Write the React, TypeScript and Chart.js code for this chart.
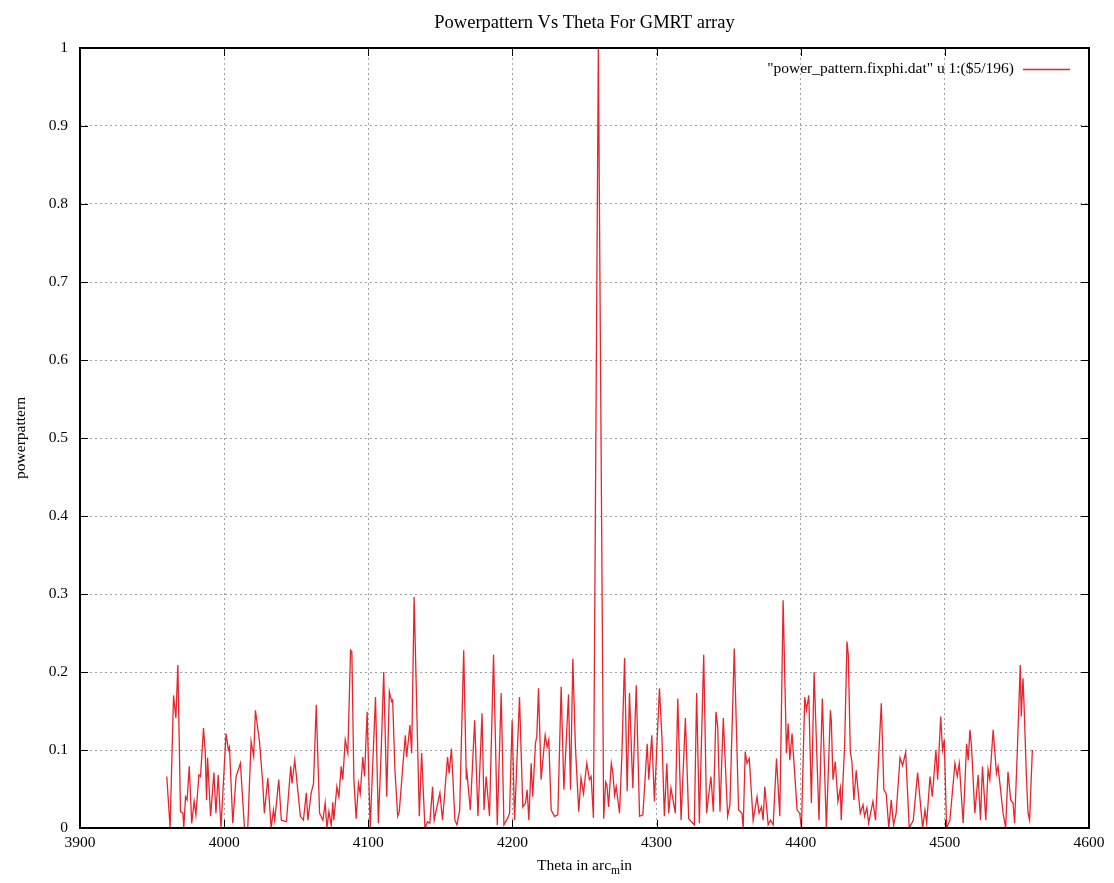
import React, { useEffect, useRef } from "react";
import { Chart, registerables } from "chart.js";

Chart.register(...registerables);

// Theta (arc-minutes) and normalised power of the GMRT array pattern at fixed phi
const thetaArcmin = [
  3960.2, 3962.5, 3964.9, 3966.5, 3967.9, 3969.7, 3971.4, 3972.0, 3973.2, 3974.3,
  3975.8, 3977.5, 3979.2, 3980.4, 3982.5, 3983.6, 3985.7, 3986.9, 3987.8, 3988.5,
  3990.6, 3992.9, 3994.3, 3995.9, 3997.8, 4001.3, 4002.9, 4003.7, 4006.0, 4008.3,
  4011.3, 4014.1, 4016.4, 4018.7, 4020.5, 4021.7, 4024.5, 4026.8, 4027.9, 4030.3,
  4032.6, 4034.2, 4035.1, 4037.9, 4039.7, 4043.2, 4046.2, 4047.1, 4049.0, 4052.9,
  4055.0, 4057.0, 4058.1, 4060.4, 4062.0, 4063.9, 4066.2, 4068.5, 4070.1, 4071.3,
  4072.7, 4074.3, 4075.4, 4076.1, 4078.2, 4079.6, 4081.2, 4082.3, 4084.0, 4085.8,
  4087.7, 4088.6, 4090.0, 4091.6, 4093.2, 4094.4, 4096.2, 4097.4, 4099.2, 4101.3,
  4105.0, 4107.0, 4108.9, 4110.7, 4112.8, 4114.6, 4116.2, 4116.9, 4118.5, 4120.4,
  4121.5, 4124.3, 4125.7, 4126.6, 4128.9, 4130.1, 4131.8, 4135.4, 4137.0, 4139.3,
  4141.1, 4142.7, 4144.6, 4145.7, 4149.7, 4151.5, 4155.0, 4156.1, 4157.7, 4160.1,
  4161.5, 4163.4, 4166.2, 4168.0, 4168.5, 4170.8, 4173.8, 4176.1, 4178.9, 4180.3,
  4181.8, 4184.1, 4186.9, 4189.5, 4192.2, 4194.1, 4196.8, 4198.0, 4199.8, 4201.5,
  4204.9, 4207.2, 4209.1, 4210.2, 4211.4, 4213.0, 4214.1, 4216.0, 4216.9, 4218.1,
  4219.9, 4222.7, 4224.1, 4225.2, 4226.9, 4229.2, 4231.5, 4233.8, 4235.7, 4238.9,
  4240.3, 4241.9, 4243.7, 4246.0, 4247.6, 4249.3, 4251.6, 4253.4, 4254.6, 4256.2,
  4259.6, 4263.3, 4264.7, 4265.6, 4266.7, 4268.6, 4269.7, 4270.9, 4272.0, 4274.3,
  4275.9, 4277.8, 4279.6, 4281.2, 4283.5, 4285.9, 4288.2, 4290.5, 4293.5, 4294.6,
  4296.7, 4298.5, 4302.0, 4303.8, 4305.4, 4307.1, 4308.4, 4310.0, 4311.6, 4313.0,
  4314.7, 4317.0, 4320.0, 4322.3, 4326.2, 4327.8, 4329.7, 4332.7, 4334.7, 4337.7,
  4339.4, 4341.2, 4342.4, 4344.0, 4346.3, 4349.3, 4350.9, 4353.9, 4356.9, 4359.2,
  4360.1, 4361.5, 4362.7, 4364.3, 4367.0, 4369.7, 4371.1, 4372.8, 4373.9, 4375.1,
  4377.4, 4379.0, 4380.9, 4383.2, 4385.5, 4387.8, 4390.1, 4391.3, 4392.4, 4394.0,
  4397.5, 4399.3, 4400.5, 4402.8, 4404.0, 4405.6, 4407.4, 4409.3, 4412.7, 4415.0,
  4417.8, 4420.6, 4421.2, 4422.4, 4424.0, 4425.8, 4427.5, 4428.1, 4430.5, 4432.1,
  4433.0, 4434.4, 4435.5, 4436.9, 4438.5, 4439.7, 4441.3, 4443.2, 4444.3, 4445.9,
  4447.1, 4450.1, 4451.9, 4455.9, 4457.7, 4459.3, 4461.1, 4462.8, 4464.4, 4466.2,
  4468.9, 4470.7, 4472.8, 4475.3, 4478.1, 4481.1, 4484.6, 4486.2, 4487.4, 4489.7,
  4491.3, 4493.8, 4495.0, 4497.1, 4498.4, 4499.6, 4501.2, 4503.5, 4507.0, 4508.6,
  4510.0, 4512.7, 4515.1, 4516.2, 4517.4, 4518.5, 4520.8, 4523.1, 4524.7, 4526.1,
  4528.4, 4530.0, 4531.2, 4533.5, 4535.8, 4536.9, 4540.4, 4542.2, 4543.8, 4545.7,
  4547.3, 4548.4, 4550.3, 4552.3, 4553.0, 4554.2, 4554.9, 4556.5, 4557.7, 4558.8,
  4560.7,
];

const powerPattern = [
  0.066, 0.0, 0.17, 0.141, 0.209, 0.021, 0.019, 0.0, 0.04, 0.036,
  0.079, 0.006, 0.034, 0.017, 0.068, 0.066, 0.128, 0.096, 0.036, 0.09,
  0.015, 0.071, 0.019, 0.068, 0.0, 0.121, 0.1, 0.104, 0.006, 0.066,
  0.083, 0.0, 0.0, 0.111, 0.092, 0.151, 0.111, 0.057, 0.019, 0.064,
  0.0, 0.023, 0.01, 0.062, 0.01, 0.008, 0.079, 0.057, 0.087, 0.015,
  0.01, 0.045, 0.01, 0.045, 0.057, 0.158, 0.019, 0.01, 0.032, 0.0,
  0.021, 0.003, 0.033, 0.01, 0.053, 0.04, 0.079, 0.062, 0.113, 0.096,
  0.228, 0.226, 0.062, 0.012, 0.057, 0.044, 0.091, 0.066, 0.149, 0.0,
  0.168, 0.006, 0.096, 0.2, 0.04, 0.175, 0.162, 0.164, 0.074, 0.015,
  0.021, 0.087, 0.119, 0.091, 0.132, 0.096, 0.296, 0.015, 0.096, 0.0,
  0.008, 0.006, 0.053, 0.01, 0.045, 0.01, 0.091, 0.07, 0.102, 0.01,
  0.004, 0.023, 0.228, 0.062, 0.07, 0.023, 0.138, 0.015, 0.147, 0.023,
  0.066, 0.015, 0.222, 0.004, 0.173, 0.004, 0.013, 0.019, 0.138, 0.01,
  0.168, 0.027, 0.032, 0.049, 0.01, 0.083, 0.04, 0.109, 0.117, 0.179,
  0.062, 0.119, 0.104, 0.113, 0.023, 0.015, 0.017, 0.181, 0.049, 0.171,
  0.049, 0.217, 0.104, 0.021, 0.064, 0.044, 0.083, 0.062, 0.066, 0.013,
  1.0, 0.012, 0.059, 0.055, 0.027, 0.083, 0.07, 0.042, 0.053, 0.019,
  0.091, 0.218, 0.047, 0.173, 0.051, 0.183, 0.015, 0.017, 0.108, 0.062,
  0.119, 0.034, 0.179, 0.113, 0.015, 0.083, 0.019, 0.051, 0.034, 0.019,
  0.166, 0.01, 0.141, 0.012, 0.004, 0.173, 0.006, 0.222, 0.019, 0.066,
  0.021, 0.149, 0.13, 0.021, 0.141, 0.015, 0.03, 0.23, 0.023, 0.019,
  0.0, 0.098, 0.083, 0.089, 0.01, 0.04, 0.019, 0.027, 0.01, 0.053,
  0.004, 0.01, 0.004, 0.089, 0.015, 0.292, 0.096, 0.134, 0.087, 0.121,
  0.023, 0.019, 0.0, 0.168, 0.151, 0.17, 0.032, 0.2, 0.01, 0.166,
  0.0, 0.151, 0.138, 0.062, 0.085, 0.034, 0.051, 0.01, 0.108, 0.239,
  0.222, 0.098, 0.085, 0.036, 0.074, 0.049, 0.019, 0.03, 0.015, 0.026,
  0.006, 0.034, 0.01, 0.16, 0.049, 0.044, 0.0, 0.036, 0.004, 0.019,
  0.09, 0.08, 0.097, 0.0, 0.01, 0.071, 0.0, 0.023, 0.006, 0.066,
  0.04, 0.1, 0.062, 0.143, 0.1, 0.113, 0.0, 0.01, 0.083, 0.066,
  0.083, 0.006, 0.108, 0.087, 0.126, 0.104, 0.019, 0.068, 0.01, 0.079,
  0.01, 0.075, 0.062, 0.126, 0.07, 0.079, 0.019, 0.0, 0.072, 0.036,
  0.032, 0.006, 0.1, 0.209, 0.143, 0.192, 0.16, 0.07, 0.019, 0.01,
  0.1,
];

const xRange = [3900, 4600];
const xStep = 100;
const yRange = [0, 1];
const yStep = 0.1;

const chartTitle = "Powerpattern Vs Theta For GMRT array";
const seriesLabel = '"power_pattern.fixphi.dat" u 1:($5/196)';
const yAxisTitle = "powerpattern";
// x label: "Theta in arc" + subscript "m" + "in"
const xAxisTitleParts = ["Theta in arc", "m", "in"];

const SERIF = '"Liberation Serif", "Times New Roman", serif';
const LINE_COLOR = "rgb(232, 36, 44)";

// Draws the gnuplot-style frame: border, inward tick marks, title, axis labels and key
const framePlugin = {
  id: "gnuplotFrame",
  afterDraw(chart: any) {
    const { ctx, chartArea } = chart;
    const { left, right, top, bottom } = chartArea;
    const xs = chart.scales.x;
    const ys = chart.scales.y;
    ctx.save();

    // inward tick marks on all four sides
    ctx.strokeStyle = "#000";
    ctx.lineWidth = 1;
    const tickLen = 8;
    ctx.beginPath();
    xs.ticks.forEach((t: any) => {
      const px = Math.round(xs.getPixelForValue(t.value)) + 0.5;
      ctx.moveTo(px, bottom);
      ctx.lineTo(px, bottom - tickLen);
      ctx.moveTo(px, top);
      ctx.lineTo(px, top + tickLen);
    });
    ys.ticks.forEach((t: any) => {
      const py = Math.round(ys.getPixelForValue(t.value)) + 0.5;
      ctx.moveTo(left, py);
      ctx.lineTo(left + tickLen, py);
      ctx.moveTo(right, py);
      ctx.lineTo(right - tickLen, py);
    });
    ctx.stroke();

    // border
    ctx.lineWidth = 2;
    ctx.strokeRect(left, top, right - left, bottom - top);

    ctx.fillStyle = "#000";

    // title
    ctx.font = `18.5px ${SERIF}`;
    ctx.textAlign = "center";
    ctx.textBaseline = "middle";
    ctx.fillText(chartTitle, (left + right) / 2, 23);

    // y axis title
    ctx.save();
    ctx.font = `15.5px ${SERIF}`;
    ctx.translate(21, (top + bottom) / 2);
    ctx.rotate(-Math.PI / 2);
    ctx.fillText(yAxisTitle, 0, 0);
    ctx.restore();

    // x axis title with subscript
    const mainFont = `15.5px ${SERIF}`;
    const subFont = `11.5px ${SERIF}`;
    ctx.textAlign = "left";
    ctx.textBaseline = "alphabetic";
    ctx.font = mainFont;
    const w0 = ctx.measureText(xAxisTitleParts[0]).width;
    const w2 = ctx.measureText(xAxisTitleParts[2]).width;
    ctx.font = subFont;
    const w1 = ctx.measureText(xAxisTitleParts[1]).width;
    const totalW = w0 + w1 + w2;
    let cx = (left + right) / 2 - totalW / 2;
    const baseY = 870;
    ctx.font = mainFont;
    ctx.fillText(xAxisTitleParts[0], cx, baseY);
    cx += w0;
    ctx.font = subFont;
    ctx.fillText(xAxisTitleParts[1], cx, baseY + 4);
    cx += w1;
    ctx.font = mainFont;
    ctx.fillText(xAxisTitleParts[2], cx, baseY);

    // key (text right-aligned, then line sample)
    const ds = chart.data.datasets[0];
    ctx.font = `15.5px ${SERIF}`;
    ctx.textAlign = "right";
    ctx.textBaseline = "middle";
    ctx.fillText(ds.label, 1014, 69);
    ctx.strokeStyle = LINE_COLOR;
    ctx.lineWidth = 1.3;
    ctx.beginPath();
    ctx.moveTo(1023, 69.5);
    ctx.lineTo(1070, 69.5);
    ctx.stroke();

    ctx.restore();
  },
};

export default function App() {
  const canvasRef = useRef<HTMLCanvasElement | null>(null);

  useEffect(() => {
    if (!canvasRef.current) return;
    const points = thetaArcmin.map((t, i) => ({ x: t, y: powerPattern[i] }));
    const gridStyle = {
      color: "rgba(150,150,150,0.9)",
      lineWidth: 1,
      drawTicks: false,
    };
    const chart = new Chart(canvasRef.current, {
      type: "line",
      data: {
        datasets: [
          {
            label: seriesLabel,
            data: points,
            borderColor: LINE_COLOR,
            borderWidth: 1.3,
            pointRadius: 0,
            tension: 0,
            fill: false,
          },
        ],
      },
      options: {
        animation: false,
        responsive: false,
        devicePixelRatio: 1,
        layout: { padding: { top: 48, right: 25, left: 0, bottom: 0 } },
        plugins: {
          legend: { display: false },
          title: { display: false },
          tooltip: { enabled: false },
        },
        scales: {
          x: {
            type: "linear",
            min: xRange[0],
            max: xRange[1],
            grid: gridStyle,
            border: { display: false, dash: [2, 3] },
            ticks: {
              stepSize: xStep,
              padding: 6,
              color: "#000",
              font: { family: SERIF, size: 15.5 },
              maxRotation: 0,
              callback: (v: any) => String(v),
            },
            afterFit: (scale: any) => {
              scale.height = 55;
            },
          },
          y: {
            type: "linear",
            min: yRange[0],
            max: yRange[1],
            grid: gridStyle,
            border: { display: false, dash: [2, 3] },
            ticks: {
              stepSize: yStep,
              padding: 12,
              color: "#000",
              font: { family: SERIF, size: 15.5 },
              callback: (v: any) => String(Number(Number(v).toFixed(1))),
            },
            afterFit: (scale: any) => {
              scale.width = 80;
            },
          },
        },
      },
      plugins: [framePlugin],
    });
    return () => chart.destroy();
  }, []);

  return (
    <div style={{ position: "fixed", left: 0, top: 0, width: 1114, height: 883, background: "#fff" }}>
      <canvas ref={canvasRef} width={1114} height={883} />
    </div>
  );
}
